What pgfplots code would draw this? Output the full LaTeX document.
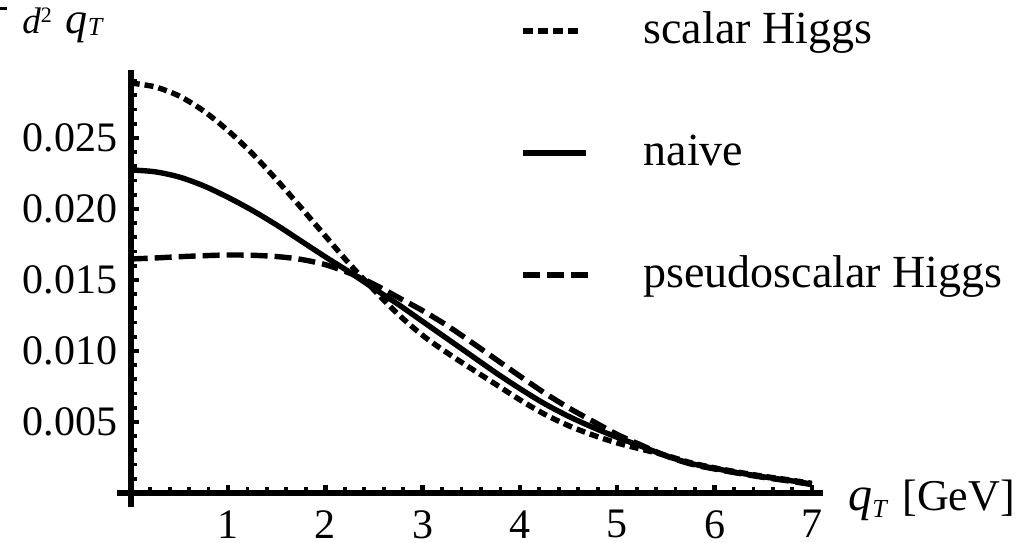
\documentclass[border=0pt]{standalone}
\usepackage{pgfplots}
\pgfplotsset{compat=1.18}
\usepackage{pgfplotstable}
\usepackage{fontspec}
\setmainfont{Liberation Serif}

\pgfplotsset{
  leg line/.style 2 args={legend image code/.code={\draw[##1, line width=3.3pt, #2] (0pt,0pt) -- (#1,0pt);}},
}

\pgfplotstableread{
x     s        n        p
0     0.02887  0.02275  0.01648
0.25  0.02860  0.02262  0.01655
0.5   0.02795  0.02225  0.01664
0.75  0.02690  0.02163  0.01671
1.0   0.02552  0.02082  0.01676
1.25  0.02390  0.01990  0.01674
1.5   0.02205  0.01887  0.01665
1.75  0.02010  0.01775  0.01645
2.0   0.01810  0.01663  0.01608
2.25  0.01612  0.01555  0.01548
2.5   0.01430  0.01440  0.01470
2.75  0.01258  0.01328  0.01377
3.0   0.01110  0.01208  0.01284
3.25  0.00988  0.01088  0.01180
3.5   0.00876  0.00968  0.01063
3.75  0.00766  0.00848  0.00943
4.0   0.00656  0.00735  0.00823
4.25  0.00556  0.00630  0.00706
4.5   0.00474  0.00540  0.00600
4.75  0.00408  0.00462  0.00505
5.0   0.00352  0.00392  0.00412
5.25  0.00308  0.00328  0.00336
5.5   0.00265  0.00262  0.00262
5.75  0.00214  0.00209  0.00205
6.0   0.00177  0.00173  0.00169
6.25  0.00146  0.00142  0.00138
6.5   0.00118  0.00114  0.00110
6.75  0.00094  0.00090  0.00086
7.0   0.00068  0.00063  0.00059
}\datatable

\begin{document}
\begin{tikzpicture}
\begin{axis}[
  scale only axis, width=352.96pt, height=218.68pt,
  xmin=-0.14, xmax=7.115, ymin=-0.001, ymax=0.0298,
  axis lines=middle,
  axis line style={-, line width=2.8pt, black},
  xtick={1,2,3,4,5,6,7},
  ytick={0.005,0.01,0.015,0.02,0.025},
  minor xtick={0.2,0.4,...,7.0},
  minor ytick={0.001,0.002,...,0.0295},
  tick align=inside,
  major tick length=4.2pt, minor tick length=3pt,
  every major tick/.append style={line width=2.2pt, black},
  every minor tick/.append style={line width=1.9pt, black},
  scaled y ticks=false,
  /pgf/number format/assume math mode=true,
  tick label style={font=\fontsize{21}{25}\selectfont},
  yticklabel style={/pgf/number format/.cd, fixed, fixed zerofill, precision=3, /tikz/.cd, anchor=east, inner sep=0pt, xshift=-6.5pt},
  xticklabel style={anchor=north, inner sep=0pt, yshift=-8.5pt},
  every axis x label/.style={at={(rel axis cs:1.0354,-0.0065)}, anchor=base west, inner sep=0pt, font=\fontsize{22}{26}\selectfont},
  xlabel={{\fontsize{24}{24}\selectfont\textit{q}}\raisebox{-3.5pt}{\fontsize{13}{13}\selectfont\textit{T}}\hspace{7pt}[GeV]},
  every axis y label/.style={at={(rel axis cs:-0.173,1.0842)}, anchor=base west, inner sep=0pt},
  ylabel={\rule[11.5pt]{6pt}{1.6pt}\hspace{7.5pt}{\fontsize{18.5}{18}\selectfont\textit{d}}\raisebox{5.5pt}{\fontsize{11}{11}\selectfont 2}\hspace{7pt}{\fontsize{22}{22}\selectfont\textit{q}}\raisebox{-1pt}{\fontsize{13}{13}\selectfont\textit{T}}},
  legend style={at={(rel axis cs:0.5708,1.1390)}, anchor=north west, draw=none, fill=none, inner sep=0pt, outer sep=0pt, row sep=39pt, font=\fontsize{23}{27}\selectfont, nodes={inner sep=0pt, text height=17pt, text depth=5pt}, /tikz/every odd column/.append style={column sep=26pt}},
  legend cell align=left,
]
\addplot[black, line width=2.7pt, dash pattern=on 4.5pt off 2.5pt, smooth,
  leg line={27.5pt}{dash pattern=on 5pt off 2.5pt}]
  table[x=x, y=s]{\datatable};
\addlegendentry{scalar Higgs}
\addplot[black, line width=2.7pt, smooth, leg line={31.5pt}{}]
  table[x=x, y=n]{\datatable};
\addlegendentry{naive}
\addplot[black, line width=2.7pt, dash pattern=on 8.5pt off 3.5pt, smooth,
  leg line={32.5pt}{dash pattern=on 8.5pt off 3.5pt}]
  table[x=x, y=p]{\datatable};
\addlegendentry{pseudoscalar Higgs}
\coordinate (bbll) at (axis cs:-1.3433,-0.003521);
\coordinate (bbur) at (axis cs:9.1912,0.034718);
\end{axis}
\pgfresetboundingbox
\path[use as bounding box] (bbll) rectangle (bbur);
\end{tikzpicture}
\end{document}
